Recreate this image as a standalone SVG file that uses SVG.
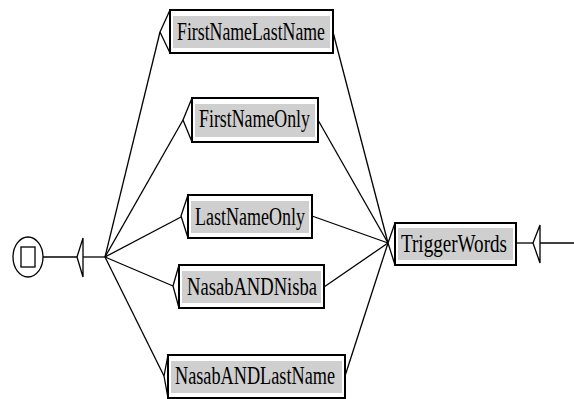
<svg xmlns="http://www.w3.org/2000/svg" width="574" height="399" viewBox="0 0 574 399">
<style>
.ln{stroke:#000;stroke-width:1.3;fill:none}
.box{fill:#fff;stroke:#000;stroke-width:2}
.in{fill:#cfcfcf}
.tri{fill:#fff;stroke:#000;stroke-width:1.3}
text{font-family:"Liberation Serif","Times New Roman",serif;font-size:25px;fill:#000}
</style>
<rect width="574" height="399" fill="#fff"/>
<g id="connectors">
<line class="ln" x1="43" y1="257" x2="77" y2="257"/>
<line class="ln" x1="83" y1="257" x2="105" y2="257"/>
<line class="ln" x1="105" y1="257" x2="160" y2="32"/>
<line class="ln" x1="105" y1="257" x2="183" y2="120"/>
<line class="ln" x1="105" y1="257" x2="181" y2="217"/>
<line class="ln" x1="105" y1="257" x2="173" y2="286"/>
<line class="ln" x1="105" y1="257" x2="164" y2="376"/>
<line class="ln" x1="333" y1="32" x2="388" y2="243"/>
<line class="ln" x1="318" y1="120" x2="388" y2="243"/>
<line class="ln" x1="312" y1="216" x2="388" y2="243"/>
<line class="ln" x1="324" y1="287" x2="388" y2="243"/>
<line class="ln" x1="345" y1="376" x2="388" y2="243"/>
<line class="ln" x1="516" y1="243" x2="533" y2="243"/>
<line class="ln" x1="540" y1="243" x2="574" y2="243"/>
</g>
<g id="initial">
<ellipse class="ln" cx="28" cy="257" rx="15" ry="20" stroke-width="1.5"/>
<rect class="ln" x="21" y="247" width="14" height="20" stroke-width="1.5"/>
<polygon class="tri" points="83,238 77,257 83,277"/>
</g>
<g id="final">
<polygon class="tri" points="540,225 533,243 540,263"/>
</g>
<g id="FirstNameLastName">
<polygon class="tri" points="170,10 160,32 170,53"/>
<rect class="box" x="170" y="10" width="163" height="43"/>
<rect class="in" x="173" y="16" width="157" height="32"/>
<text x="177" y="40" textLength="148" lengthAdjust="spacingAndGlyphs">FirstNameLastName</text>
</g>
<g id="FirstNameOnly">
<polygon class="tri" points="192,98 183,120 192,142"/>
<rect class="box" x="192" y="98" width="126" height="44"/>
<rect class="in" x="195" y="104" width="120" height="33"/>
<text x="199" y="127" textLength="111" lengthAdjust="spacingAndGlyphs">FirstNameOnly</text>
</g>
<g id="LastNameOnly">
<polygon class="tri" points="188,195 181,216 188,238"/>
<rect class="box" x="188" y="195" width="124" height="43"/>
<rect class="in" x="191" y="201" width="118" height="32"/>
<text x="195" y="225" textLength="110" lengthAdjust="spacingAndGlyphs">LastNameOnly</text>
</g>
<g id="NasabANDNisba">
<polygon class="tri" points="179,265 173,286 179,308"/>
<rect class="box" x="179" y="265" width="145" height="43"/>
<rect class="in" x="182" y="271" width="139" height="32"/>
<text x="187" y="295" textLength="130" lengthAdjust="spacingAndGlyphs">NasabANDNisba</text>
</g>
<g id="NasabANDLastName">
<polygon class="tri" points="168,355 164,376 168,398"/>
<rect class="box" x="168" y="355" width="177" height="43"/>
<rect class="in" x="171" y="361" width="171" height="32"/>
<text x="175" y="384" textLength="160" lengthAdjust="spacingAndGlyphs">NasabANDLastName</text>
</g>
<g id="TriggerWords">
<polygon class="tri" points="395,223 388,243 395,265"/>
<rect class="box" x="395" y="223" width="121" height="42"/>
<rect class="in" x="398" y="228" width="115" height="32"/>
<text x="401" y="252" textLength="106" lengthAdjust="spacingAndGlyphs">TriggerWords</text>
</g>
</svg>
